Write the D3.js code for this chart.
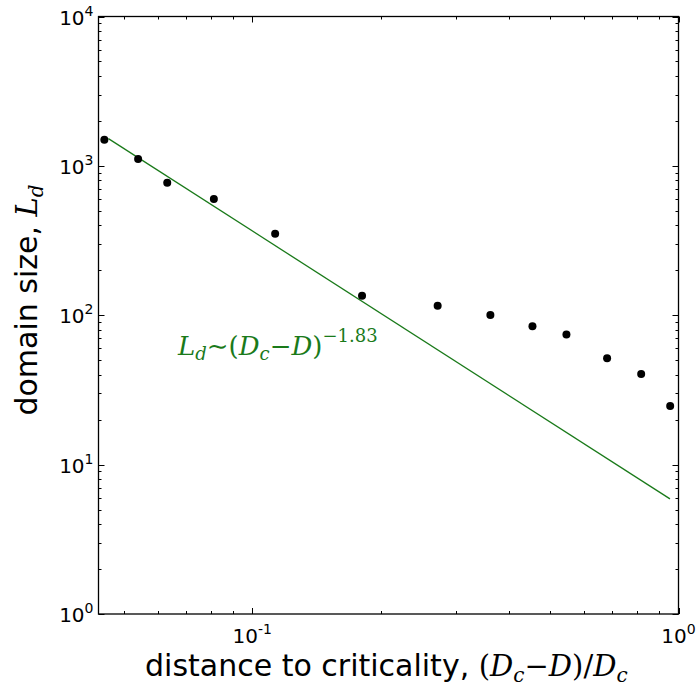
<!DOCTYPE html>
<html>
<head>
<meta charset="utf-8">
<script src="https://cdn.jsdelivr.net/npm/d3@7"></script>
<style>
  body { margin: 0; background: #fff; }
  svg { display: block; }
  .sans { font-family: "DejaVu Sans", sans-serif; }
  .math { font-family: "DejaVu Serif", "Liberation Serif", serif; font-style: italic; }
  .rm { font-family: "DejaVu Serif", "Liberation Serif", serif; font-style: normal; }
</style>
</head>
<body>
<div id="chart"></div>
<script>
// measured points: distance to criticality vs domain size
const distance = [0.0450, 0.0540, 0.0632, 0.0813, 0.1132, 0.181, 0.2723, 0.362, 0.4544, 0.5459, 0.680, 0.8174, 0.956];
const domainSize = [1496, 1111, 770, 599, 351, 135, 115.6, 100.2, 84.5, 74.2, 51.6, 40.5, 24.7];

// fitted power law, end points
const fitX = [0.046, 0.955];
const fitY = [1521, 5.9];

const xTicks = [0.1, 1];
const xTickExp = ["-1", "0"];
const yTicks = [1, 10, 100, 1000, 10000];
const yTickExp = ["0", "1", "2", "3", "4"];

const green = "#1a7a1a";

const width = 698, height = 694;
const margin = { left: 98.5, right: 19.5, top: 16.5, bottom: 80 };

const svg = d3.select("#chart").append("svg")
  .attr("width", width)
  .attr("height", height);

const x = d3.scaleLog()
  .domain([0.0436, 1])
  .range([margin.left, width - margin.right]);

const y = d3.scaleLog()
  .domain([1, 10000])
  .range([height - margin.bottom, margin.top]);

const [x0, x1] = x.range();
const [y0, y1] = y.range();

// minor ticks for both axes
const xMinor = [];
for (let k = 5; k <= 9; k++) xMinor.push(k / 100);
for (let k = 2; k <= 9; k++) xMinor.push(k / 10);
const yMinor = [];
for (let d = 1; d < 10000; d *= 10)
  for (let k = 2; k <= 9; k++) yMinor.push(d * k);

const ticks = svg.append("g").attr("stroke", "#000").attr("stroke-width", 1);

function tickMarks(vals, len) {
  vals.forEach(v => {
    const px = Math.round(x(v)) + 0.5;
    ticks.append("line").attr("x1", px).attr("x2", px).attr("y1", y0).attr("y2", y0 - len);
    ticks.append("line").attr("x1", px).attr("x2", px).attr("y1", y1).attr("y2", y1 + len);
  });
}
function tickMarksY(vals, len) {
  vals.forEach(v => {
    const py = Math.round(y(v)) + 0.5;
    ticks.append("line").attr("y1", py).attr("y2", py).attr("x1", x0).attr("x2", x0 + len);
    ticks.append("line").attr("y1", py).attr("y2", py).attr("x1", x1).attr("x2", x1 - len);
  });
}
tickMarks(xMinor, 3);
tickMarks(xTicks, 6);
tickMarksY(yMinor, 3);
tickMarksY(yTicks, 6);

// fit line
svg.append("path")
  .datum(d3.zip(fitX, fitY))
  .attr("fill", "none")
  .attr("stroke", green)
  .attr("stroke-width", 1.3)
  .attr("d", d3.line().x(d => x(d[0])).y(d => y(d[1])));

// data points
svg.append("g")
  .selectAll("circle")
  .data(d3.zip(distance, domainSize))
  .enter().append("circle")
  .attr("cx", d => x(d[0]))
  .attr("cy", d => y(d[1]))
  .attr("r", 4)
  .attr("fill", "#000");

// frame
svg.append("rect")
  .attr("x", x0).attr("y", y1)
  .attr("width", x1 - x0).attr("height", y0 - y1)
  .attr("fill", "none")
  .attr("stroke", "#000")
  .attr("stroke-width", 1.3);

// tick labels
xTicks.forEach((v, i) => {
  const t = svg.append("text").attr("class", "sans")
    .attr("x", x(v)).attr("y", y0 + 29)
    .attr("text-anchor", "middle")
    .attr("font-size", 20);
  t.append("tspan").text("10");
  t.append("tspan").attr("dy", -9).attr("font-size", 14).text(xTickExp[i]);
});

yTicks.forEach((v, i) => {
  const t = svg.append("text").attr("class", "sans")
    .attr("x", x0 - 5).attr("y", y(v) + 8)
    .attr("text-anchor", "end")
    .attr("font-size", 20);
  t.append("tspan").text("10");
  t.append("tspan").attr("dy", -9).attr("font-size", 14).text(yTickExp[i]);
});

// pieces of a math label: [text, class, size, dy]
function mathText(sel, parts) {
  parts.forEach(p => {
    const s = sel.append("tspan").attr("class", p[1]).text(p[0]);
    if (p[2]) s.attr("font-size", p[2]);
    if (p[3]) s.attr("dy", p[3]);
  });
}

// x axis label
const xl = svg.append("text")
  .attr("x", 145).attr("y", 676)
  .attr("font-size", 30);
mathText(xl, [
  ["distance to criticality, ", "sans"],
  ["(", "rm", 29], ["D", "math", 29], ["c", "math", 20, 6], ["\u2212", "rm", 29, -6],
  ["D", "math", 29], [")/", "rm", 29], ["D", "math", 29], ["c", "math", 20, 6]
]);

// y axis label
const yl = svg.append("text")
  .attr("transform", `translate(37,300) rotate(-90)`)
  .attr("text-anchor", "middle")
  .attr("font-size", 30);
mathText(yl, [
  ["domain size, ", "sans"],
  ["L", "math", 29], ["d", "math", 20, 6]
]);

// annotation
const ann = svg.append("text")
  .attr("x", 178).attr("y", 355)
  .attr("fill", green)
  .attr("font-size", 26);
mathText(ann, [
  ["L", "math"], ["d", "math", 18, 5], ["\u223C(", "rm", null, -5],
  ["D", "math"], ["c", "math", 18, 5], ["\u2212", "rm", null, -5],
  ["D", "math"], [")", "rm"], ["\u22121.83", "rm", 18, -13]
]);
</script>
</body>
</html>
